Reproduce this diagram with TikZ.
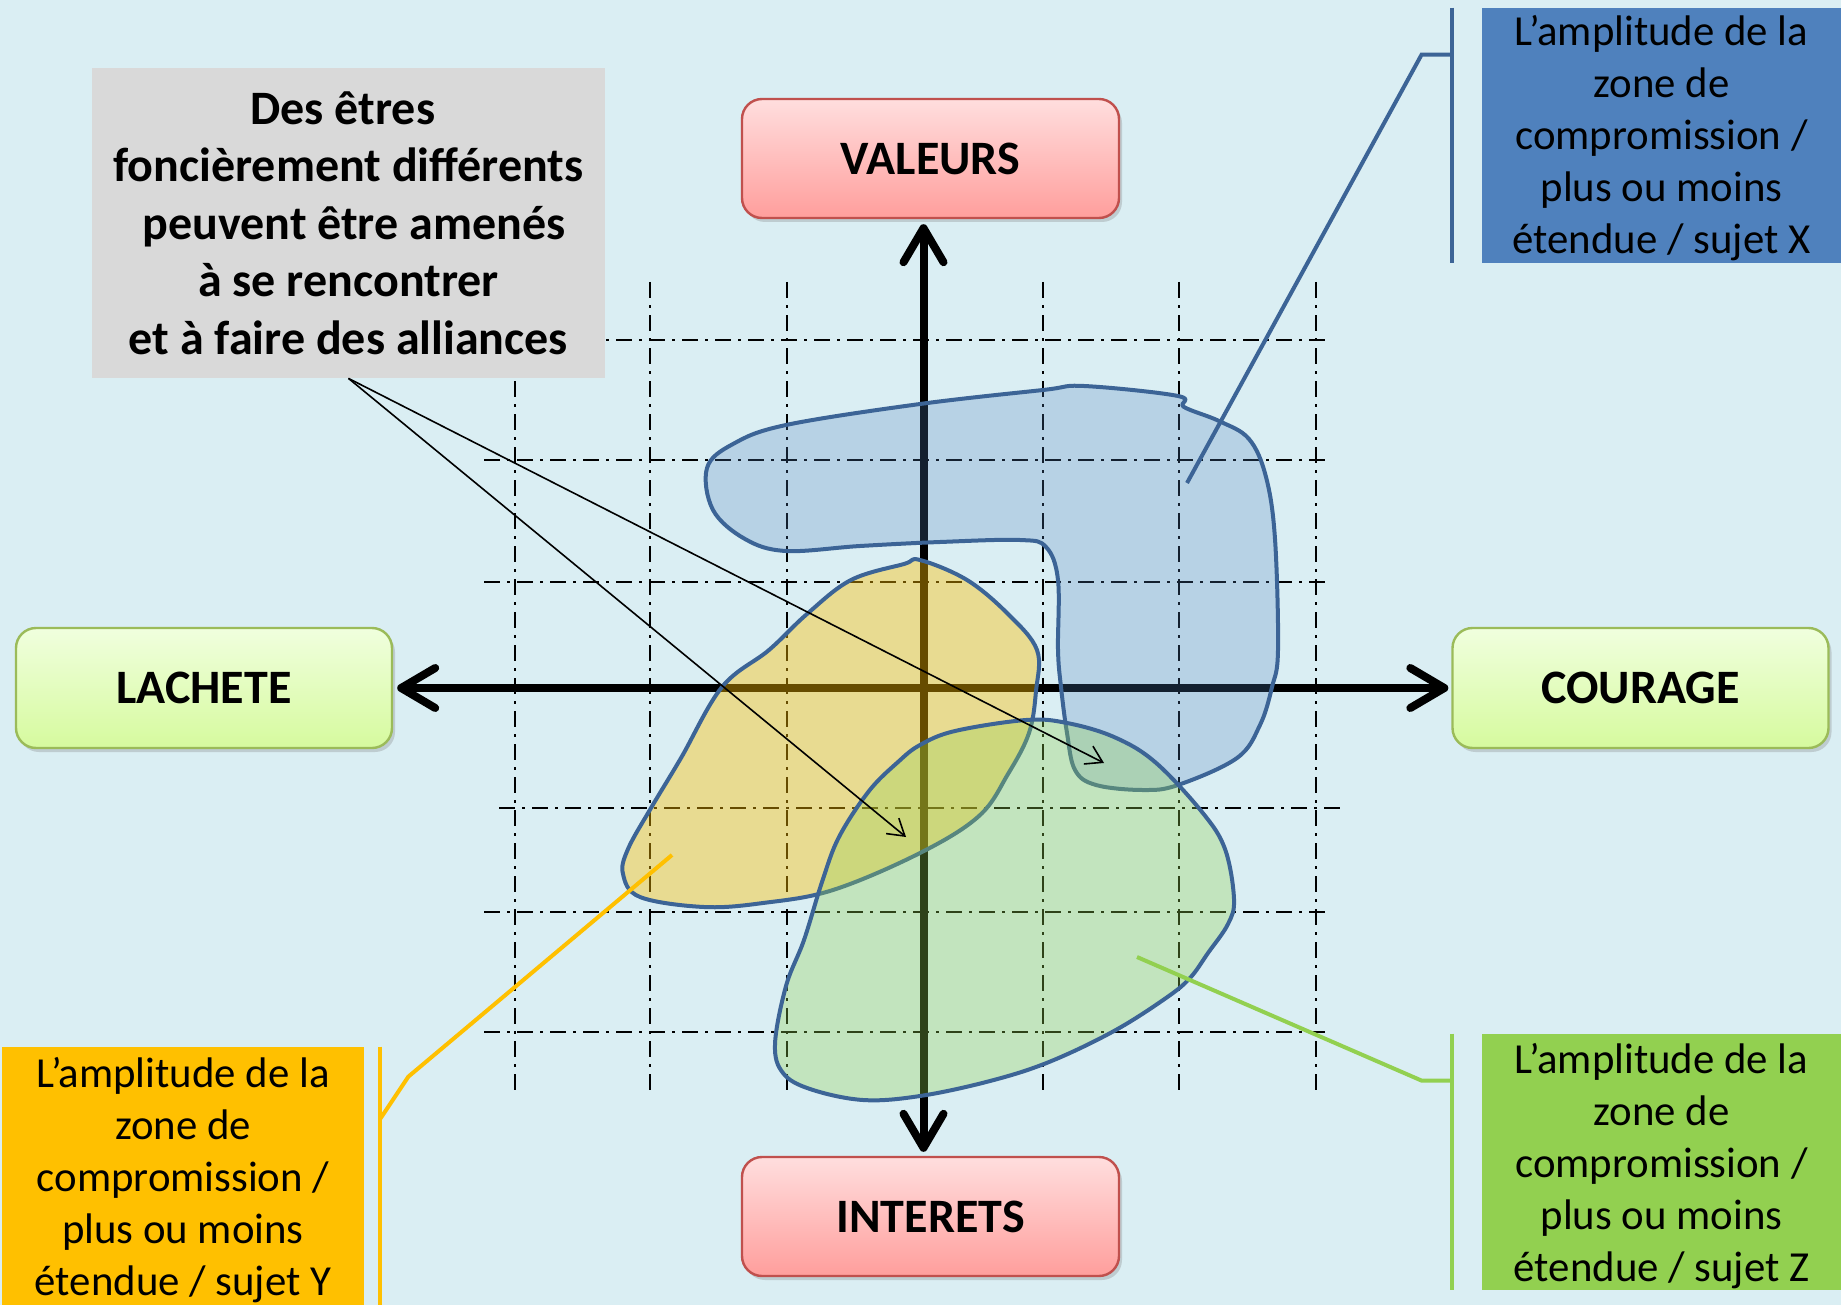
\documentclass[tikz,border=0pt]{standalone}
\usepackage{fontspec}
\setmainfont{Carlito}
\usetikzlibrary{arrows.meta,shadows,calc}
\definecolor{bgc}{HTML}{DAEEF3}
\definecolor{grayc}{HTML}{D9D9D9}
\definecolor{bluec}{HTML}{4F81BD}
\definecolor{yelc}{HTML}{FFC000}
\definecolor{grnc}{HTML}{92D050}
\definecolor{edgec}{HTML}{3C6496}
\definecolor{redtop}{RGB}{255,222,222}
\definecolor{redbot}{RGB}{255,158,156}
\definecolor{redline}{HTML}{C0504D}
\definecolor{grntop}{RGB}{240,255,222}
\definecolor{grnbot}{RGB}{214,250,158}
\definecolor{grnline}{HTML}{9BBB59}
\tikzset{
  gridline/.style={line width=0.75pt, dash pattern=on 8pt off 3.5pt on 1.5pt off 3.5pt},
  axisline/.style={line width=4pt, line cap=round, {Straight Barb[length=17pt,width=20pt,round]}-{Straight Barb[length=17pt,width=20pt,round]}},
  redbox/.style={draw=redline, line width=1.2pt, rounded corners=10pt, top color=redtop, bottom color=redbot,
    minimum width=188.5pt, minimum height=59.5pt, font=\fontsize{24}{28}\selectfont\bfseries,
    drop shadow={shadow xshift=1.5pt, shadow yshift=-2pt, opacity=0.3}},
  grnbox/.style={draw=grnline, line width=1.2pt, rounded corners=10pt, top color=grntop, bottom color=grnbot,
    minimum width=188pt, minimum height=60pt, font=\fontsize{24}{28}\selectfont\bfseries,
    drop shadow={shadow xshift=1.5pt, shadow yshift=-2pt, opacity=0.3}},
  zone/.style={draw=edgec, line width=2pt, line join=round},
  callbox/.style={inner sep=0pt},
  calltext/.style={inner sep=0pt, align=center, font=\fontsize{21.4}{26}\selectfont},
  leader/.style={line width=2pt, line join=miter},
  pointer/.style={line width=0.8pt, -{Straight Barb[length=8pt,width=10pt]}}
}
\begin{document}
\begin{tikzpicture}[x=0.5pt,y=-0.5pt]
\useasboundingbox (0,0) rectangle (1841,1305);
\fill[bgc] (0,0) rectangle (1841,1305);
% grid
\foreach \x in {515,650,787,1043,1179,1316} \draw[gridline] (\x,282) -- (\x,1094);
\foreach \y in {340,460,582,912,1032} \draw[gridline] (484,\y) -- (1328,\y);
\draw[gridline] (499,808) -- (1343,808);
% label boxes
\node[redbox] (valeurs) at (930.5,158.5) {VALEURS};
\node[redbox] (interets) at (930.5,1216.5) {INTERETS};
\node[grnbox] (lachete) at (204,688) {LACHETE};
\node[grnbox] (courage) at (1640.5,688) {COURAGE};
% axes
\draw[axisline] ([shift={(-7,5)}]valeurs.south) -- ([shift={(-7,-4)}]interets.north);
\draw[axisline] ([shift={(4,0)}]lachete.east) -- ([shift={(-3,0)}]courage.west);
% zones
\filldraw[zone, fill=bluec, fill opacity=0.25] plot[smooth cycle, tension=0.6] coordinates {
 (707,468) (733,444) (786,425) (920,404) (1043,390) (1084,386) (1178,396) (1184,407) (1219,421) (1249,439)
 (1266,477) (1275,539) (1278,650) (1272,687) (1260,725) (1237,758) (1178,785) (1143,790) (1096,785)
 (1075,770) (1067,733) (1061,687) (1058,650) (1058,580) (1046,547) (1020,540) (940,542) (860,546)
 (786,551) (745,539) (713,510)};
\filldraw[zone, fill=yelc, fill opacity=0.4] plot[smooth cycle, tension=0.6] coordinates {
 (920,560) (967,580) (1008,614) (1037,650) (1036,691) (1029,733) (1008,774) (979,816) (920,853)
 (833,890) (763,903) (704,907) (640,897) (623,874) (628,849) (651,808) (681,758) (722,687)
 (769,650) (807,614) (851,580) (904,564)};
\filldraw[zone, fill=grnc, fill opacity=0.32] plot[smooth cycle, tension=0.6] coordinates {
 (920,745) (955,731) (1026,720) (1067,723) (1114,737) (1155,762) (1202,812) (1225,849) (1234,899)
 (1228,924) (1208,953) (1190,978) (1166,998) (1114,1031) (1049,1062) (990,1081) (920,1096)
 (863,1100) (810,1089) (783,1073) (775,1044) (786,986) (804,940) (822,882) (839,837) (869,791)
 (898,762)};
% callout boxes
\node[callbox, fill=bluec, minimum width=179.5pt, minimum height=127.5pt] (cx) at (1661.5,135.5) {};
\node[calltext] (cxt) at ([yshift=-1.5pt]cx.center)
 {L’amplitude de la\\zone de\\compromission /\\plus ou moins\\étendue / sujet X};
\node[callbox, fill=yelc, minimum width=181pt, minimum height=129pt] (cy) at (183,1176) {};
\node[calltext] (cyt) at ([yshift=-2pt]cy.center)
 {L’amplitude de la\\zone de\\compromission /\\plus ou moins\\étendue / sujet Y};
\node[callbox, fill=grnc, minimum width=179.5pt, minimum height=128pt] (cz) at (1661.5,1162) {};
\node[calltext] (czt) at ([yshift=-2pt]cz.center)
 {L’amplitude de la\\zone de\\compromission /\\plus ou moins\\étendue / sujet Z};
\coordinate (xend) at (1187,483);
\coordinate (yend) at (672,855);
\coordinate (zend) at (1137,957);
\draw[leader, draw=edgec] ([xshift=-15pt]cx.north west) -- ([xshift=-15pt]cx.south west);
\draw[leader, draw=edgec] ($(cx.north west)+(-30,47)$) -- ++(-30,0) -- (xend);
\draw[leader, draw=yelc] ([xshift=8pt]cy.north east) -- ([xshift=8pt]cy.south east);
\draw[leader, draw=yelc] ($(cy.north east)+(16,72)$) -- ++(28,-42) -- (yend);
\draw[leader, draw=grnc] ([xshift=-15pt]cz.north west) -- ([xshift=-15pt]cz.south west);
\draw[leader, draw=grnc] ($(cz.north west)+(-30,47)$) -- ++(-30,0) -- (zend);
% gray box
\node[fill=grayc, minimum width=256.5pt, minimum height=155pt, align=center, inner sep=0pt,
  font=\fontsize{24}{28.75}\selectfont\bfseries] (note) at (348.5,223)
 {Des êtres\hspace*{0.23em}\\foncièrement différents\\\hspace*{0.23em}peuvent être amenés\\à se rencontrer\\et à faire des alliances};
\coordinate (a1) at (906,837);
\coordinate (a2) at (1104,763);
\draw[pointer] (note.south) -- (a1);
\draw[pointer] (note.south) -- (a2);
\end{tikzpicture}
\end{document}
